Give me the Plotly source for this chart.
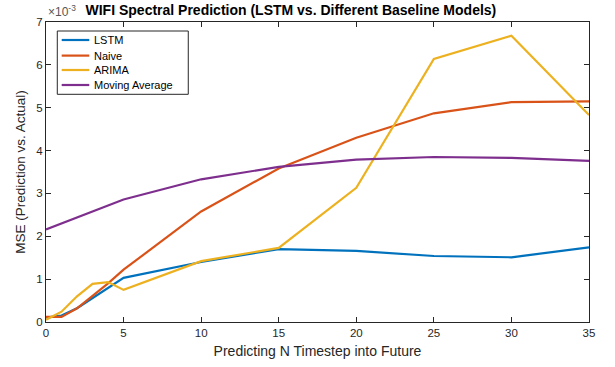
import plotly.graph_objects as go

# MSE values in units of 1e-3
steps = [0, 1, 2, 3, 4, 5, 10, 15, 20, 25, 30, 35]
lstm = [0.10, 0.15, 0.32, 0.55, 0.80, 1.03, 1.40, 1.70, 1.66, 1.54, 1.51, 1.74]
naive = [0.12, 0.12, 0.32, 0.60, 0.90, 1.22, 2.58, 3.58, 4.30, 4.87, 5.13, 5.15]
arima = [0.05, 0.24, 0.60, 0.89, 0.93, 0.75, 1.42, 1.73, 3.13, 6.14, 6.68, 4.83]
ma_steps = [0, 5, 10, 15, 20, 25, 30, 35]
moving_avg = [2.16, 2.86, 3.33, 3.62, 3.79, 3.85, 3.83, 3.76]

x_ticks = [0, 5, 10, 15, 20, 25, 30, 35]
y_ticks = [0, 1, 2, 3, 4, 5, 6, 7]

series = [
    ("LSTM", steps, lstm, "#0072BD"),
    ("Naive", steps, naive, "#D95319"),
    ("ARIMA", steps, arima, "#EDB120"),
    ("Moving Average", ma_steps, moving_avg, "#7E2F8E"),
]

font = "Liberation Sans, Arial, Helvetica, sans-serif"
axcol = "#262626"

fig = go.Figure()
for name, xs, ys, col in series:
    fig.add_trace(go.Scatter(x=xs, y=ys, mode="lines", name=name,
                             line=dict(color=col, width=2.2), showlegend=False))

# MATLAB-style compact legend (box + line samples + labels)
fig.add_shape(type="rect", xref="paper", yref="paper",
              x0=0.0208, x1=0.262, y0=0.759, y1=0.970,
              line=dict(color=axcol, width=1), fillcolor="white", layer="above")
leg_y = [0.940, 0.888, 0.840, 0.790]
for (name, xs, ys, col), ly in zip(series, leg_y):
    fig.add_shape(type="line", xref="paper", yref="paper",
                  x0=0.0289, x1=0.0797, y0=ly, y1=ly,
                  line=dict(color=col, width=2.2), layer="above")
    fig.add_annotation(text=name, xref="paper", yref="paper", x=0.0842, y=ly,
                       xanchor="left", yanchor="middle", showarrow=False,
                       font=dict(size=11, color="black", family=font))

fig.update_layout(
    width=615, height=367,
    margin=dict(l=46, r=26, t=22, b=45),
    paper_bgcolor="white", plot_bgcolor="white",
    font=dict(family=font, size=11, color=axcol),
    title=dict(text="<b>WIFI Spectral Prediction (LSTM vs. Different Baseline Models)</b>",
               x=0.473, xref="container", xanchor="center",
               y=0.973, yref="container", yanchor="middle",
               font=dict(size=14, color="black", family=font)),
    showlegend=False,
)
fig.update_xaxes(range=[0, 35], tickvals=x_ticks, automargin=False,
                 ticks="inside", ticklen=5, tickcolor=axcol, showline=True,
                 linecolor=axcol, linewidth=1, mirror="ticks", showgrid=False,
                 zeroline=False,
                 title=dict(text="Predicting N Timestep into Future", standoff=8,
                            font=dict(size=14, color=axcol)),
                 tickfont=dict(size=11.5, color=axcol))
fig.update_yaxes(range=[0, 7], tickvals=y_ticks, automargin=False,
                 ticks="inside", ticklen=5, tickcolor=axcol, showline=True,
                 linecolor=axcol, linewidth=1, mirror="ticks", showgrid=False,
                 zeroline=False,
                 title=dict(text="MSE (Prediction vs. Actual)", standoff=7,
                            font=dict(size=13.5, color=axcol)),
                 tickfont=dict(size=11.5, color=axcol))
fig.add_annotation(text="×10<sup>-3</sup>", xref="paper", yref="paper",
                   x=0.0, y=1.0, xanchor="left", yanchor="bottom", showarrow=False,
                   font=dict(size=12, color="#555555", family=font), yshift=1)
fig.write_html("out.html", config={"displayModeBar": False},
               post_script="document.body.style.margin='0';")
